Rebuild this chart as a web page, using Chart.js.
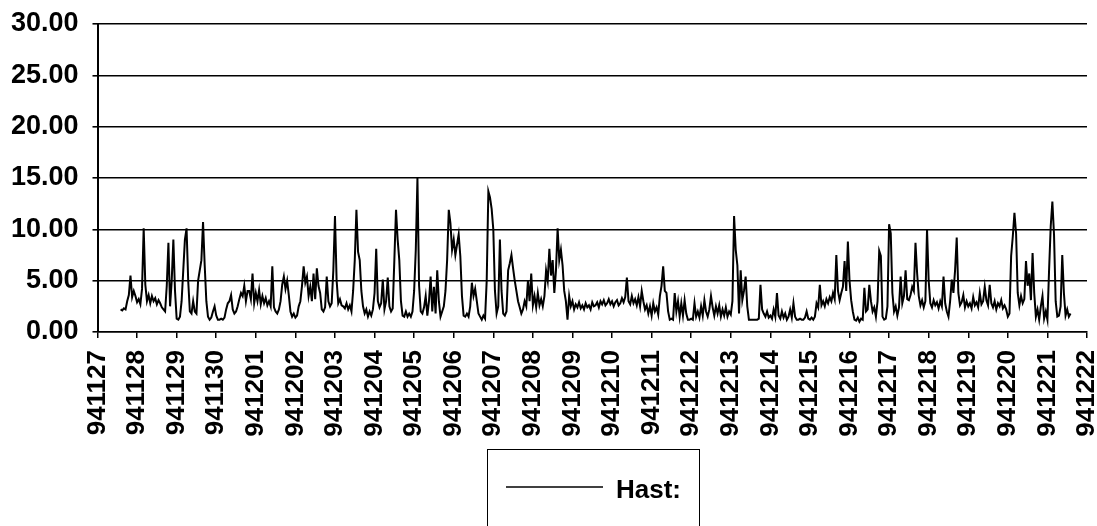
<!DOCTYPE html>
<html>
<head>
<meta charset="utf-8">
<script src="https://cdn.jsdelivr.net/npm/chart.js@4/dist/chart.umd.min.js"></script>
<style>
  html, body { margin: 0; padding: 0; background: #fff; }
  #wrap { width: 1097px; height: 526px; position: relative; }
</style>
</head>
<body>
<div id="wrap"><canvas id="hastChart"></canvas></div>
<script>
// x axis: one tick per day, 941127 .. 941222
const tickLabels = ['941127', '941128', '941129', '941130', '941201', '941202', '941203',
    '941204', '941205', '941206', '941207', '941208', '941209', '941210', '941211',
    '941212', '941213', '941214', '941215', '941216', '941217', '941218', '941219',
    '941220', '941221', '941222'];

const yTicks = [0, 5, 10, 15, 20, 25, 30];

// first reading is 941127 at 14:00, one reading per hour
const startHour = 14;

// hourly values, one row = 24 hours
const hast = [
    2.2,2.1,2.3,2.2,3.0,3.6,5.5,3.4,4.0,3.5,2.9,3.2,2.7,4.2,10.1,4.6,3.0,3.6,2.8,3.5,3.0,3.3,2.7,3.1,
    2.8,2.4,2.2,2.0,4.5,8.7,2.5,5.0,9.0,4.0,1.3,1.2,1.5,3.0,6.0,9.0,10.1,5.0,2.0,1.8,3.0,2.0,1.8,5.0,
    6.0,7.0,10.7,6.5,3.0,1.5,1.2,1.4,2.0,2.5,1.6,1.2,1.2,1.3,1.2,1.4,2.2,2.8,3.0,3.6,2.2,1.8,2.0,2.5,
    3.2,3.8,3.5,4.5,3.0,4.0,4.0,3.2,5.7,2.8,3.8,3.0,4.1,2.7,3.5,2.8,3.3,2.6,3.0,2.5,6.4,2.4,2.0,1.8,
    2.2,3.0,4.6,5.4,4.2,5.0,3.6,2.0,1.5,1.8,1.4,1.6,2.5,3.0,4.5,6.4,4.8,5.4,3.5,4.4,3.0,5.7,3.2,6.2,
    4.5,3.8,2.2,2.0,2.4,5.4,3.0,2.5,2.8,6.0,11.3,5.0,2.8,3.2,2.6,2.5,2.3,2.8,2.2,2.6,2.0,4.0,7.0,11.9,
    7.8,7.0,4.0,2.5,1.8,2.2,1.5,2.0,1.6,2.2,3.8,8.1,3.0,2.4,2.8,5.1,2.2,3.0,5.3,2.5,2.0,2.3,7.0,11.9,
    9.0,7.0,3.0,1.6,1.5,2.0,1.5,1.8,1.5,2.0,4.0,8.0,15.0,4.5,2.0,1.8,2.4,3.5,1.6,3.0,5.4,2.0,4.4,1.8,
    6.0,3.0,1.5,2.0,2.5,4.0,7.0,11.9,10.6,8.0,9.0,7.5,8.5,9.5,7.4,3.5,1.6,1.5,1.8,1.5,2.5,4.8,3.5,4.2,
    3.0,1.8,1.5,1.2,1.6,1.3,5.0,13.7,13.1,12.0,10.0,4.0,1.8,2.5,9.0,4.0,1.8,1.6,2.0,6.0,6.7,7.5,6.2,5.0,
    4.0,3.0,2.4,1.8,2.2,3.0,2.5,5.0,3.0,5.7,2.6,3.5,2.4,3.8,2.6,3.2,2.5,3.5,6.0,5.0,8.1,5.5,7.0,3.8,
    6.0,10.1,7.0,8.0,6.5,4.0,3.0,1.2,3.5,2.5,3.0,2.2,2.7,2.4,2.9,2.3,2.6,2.2,2.8,2.4,2.6,2.2,2.9,2.5,
    2.6,2.9,2.4,3.0,2.7,3.1,2.6,2.8,3.2,2.7,3.0,2.5,2.9,3.1,2.6,2.8,3.3,2.9,3.4,5.3,3.0,2.7,3.5,2.8,
    3.2,2.6,3.4,2.5,4.0,3.0,2.2,2.6,1.8,2.5,1.6,2.8,2.0,2.4,1.7,3.5,4.5,6.4,4.0,3.8,2.0,1.2,1.3,1.2,
    3.8,2.0,3.0,1.5,2.8,1.6,3.1,1.8,1.2,1.2,1.3,1.2,2.8,1.5,2.0,1.4,2.5,1.6,3.1,2.0,1.5,2.2,3.5,2.4,
    1.6,2.5,1.8,2.6,1.5,2.2,1.6,2.4,1.5,2.0,1.7,3.0,11.3,8.0,6.5,1.8,6.0,3.1,4.0,5.4,2.5,1.2,1.2,1.2,
    1.2,1.2,1.2,1.3,4.6,2.2,1.8,1.5,2.0,1.4,1.6,1.3,2.2,1.5,3.8,1.6,1.3,2.0,1.4,1.8,1.2,1.5,2.2,1.4,
    2.8,1.5,1.2,1.2,1.3,1.2,1.2,1.4,2.0,1.3,1.2,1.4,1.2,1.5,2.8,2.4,4.6,2.6,3.0,2.5,3.2,2.8,3.4,3.0,
    3.8,3.2,7.5,4.0,3.1,3.8,4.4,6.9,4.0,8.8,5.0,3.1,2.0,1.2,1.1,1.4,1.0,1.3,1.2,4.3,2.0,2.2,4.6,3.0,
    2.0,2.4,1.5,3.0,7.9,7.4,1.5,1.2,1.3,2.5,10.5,9.6,3.8,2.0,2.5,1.6,2.4,5.4,2.8,3.5,6.0,3.2,3.1,3.6,
    4.4,4.0,8.7,5.7,3.5,2.6,3.1,2.4,3.0,10.0,5.0,2.8,2.4,3.1,2.6,2.9,2.3,3.0,2.5,5.4,2.8,2.0,1.5,3.0,
    5.1,3.8,6.0,9.2,3.8,2.6,2.9,3.6,2.4,3.0,2.5,2.8,2.3,3.4,2.6,2.9,2.4,3.8,2.7,3.0,4.4,3.1,2.6,4.6,
    2.8,2.4,3.0,2.2,2.8,2.5,3.1,2.3,2.6,2.2,1.5,1.8,7.4,9.3,11.6,9.6,3.8,2.6,3.5,2.8,3.2,6.9,4.5,5.7,
    3.1,7.7,3.8,1.5,2.2,1.2,2.5,3.5,1.3,2.0,1.2,6.0,10.3,12.7,9.5,3.0,1.5,1.6,2.5,7.5,3.8,1.6,2.2,1.5,
    1.8
];

const seriesName = 'Hast:';
const FONT = '"Liberation Sans", Arial, sans-serif';

// x in days since 941127 00:00
const points = hast.map((v, i) => ({x: (startHour + i) / 24, y: v}));

const legendBox = {
    id: 'legendBox',
    afterDraw(chart) {
        const ctx = chart.ctx;
        ctx.save();
        ctx.strokeStyle = '#000';
        ctx.lineWidth = 1;
        ctx.strokeRect(487.5, 449.5, 212, 90);
        ctx.lineWidth = 1.5;
        ctx.beginPath();
        ctx.moveTo(506, 487);
        ctx.lineTo(603, 487);
        ctx.stroke();
        ctx.fillStyle = '#000';
        ctx.font = 'bold 26px ' + FONT;
        ctx.textBaseline = 'middle';
        ctx.fillText(chart.data.datasets[0].label, 616, 491);
        ctx.restore();
    }
};

new Chart(document.getElementById('hastChart'), {
    type: 'line',
    data: {
        datasets: [{
            label: seriesName,
            data: points,
            borderColor: '#000',
            borderWidth: 2,
            pointRadius: 0,
            tension: 0,
            fill: false
        }]
    },
    options: {
        responsive: true,
        maintainAspectRatio: false,
        animation: false,
        layout: { padding: { top: 24, right: 10, bottom: 0, left: 0 } },
        plugins: {
            legend: { display: false },
            tooltip: { enabled: false }
        },
        scales: {
            x: {
                type: 'linear',
                min: 0,
                max: tickLabels.length - 1,
                afterFit(scale) {
                    scale.height = 194;
                    scale.paddingLeft = 0;
                    scale.paddingRight = 0;
                },
                border: { display: true, color: '#000', width: 1.5 },
                grid: { drawOnChartArea: false, drawTicks: true, tickLength: 6, color: '#000', lineWidth: 1.5 },
                ticks: {
                    stepSize: 1,
                    autoSkip: false,
                    minRotation: 90,
                    maxRotation: 90,
                    padding: 12,
                    color: '#000',
                    font: { family: FONT, size: 26, weight: 'bold' },
                    callback: (v) => tickLabels[v]
                }
            },
            y: {
                min: 0,
                max: 30,
                afterBuildTicks(scale) {
                    scale.ticks = yTicks.map(v => ({value: v}));
                },
                afterFit(scale) {
                    scale.width = 97.5;
                    scale.paddingTop = 0;
                    scale.paddingBottom = 0;
                },
                border: { display: true, color: '#000', width: 2 },
                grid: { color: '#000', lineWidth: 1.6, tickLength: 5 },
                ticks: {
                    padding: 14,
                    color: '#000',
                    font: { family: FONT, size: 27, weight: 'bold' },
                    callback: (v) => Number(v).toFixed(2)
                }
            }
        }
    },
    plugins: [legendBox]
});
</script>
</body>
</html>
